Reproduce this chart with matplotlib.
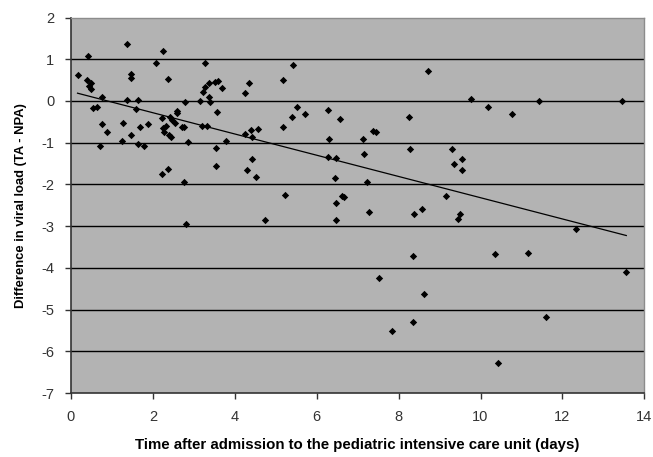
import numpy as np
import matplotlib
matplotlib.use("Agg")
import matplotlib.pyplot as plt

plt.rcParams['font.family'] = ['Liberation Sans', 'DejaVu Sans']
plt.rcParams['axes.unicode_minus'] = False

days = [0.16, 0.41, 0.38, 0.50, 0.45, 0.50, 0.76, 0.54, 0.63, 0.76, 0.89, 0.72,
        1.36, 1.46, 1.46, 1.36, 1.26, 1.46, 1.24, 1.64, 1.58, 1.68, 1.87, 1.64, 1.78,
        2.07, 2.25, 2.36, 2.23, 2.42, 2.46, 2.58, 2.60, 2.54, 2.32, 2.24, 2.28, 2.39,
        2.44, 2.72, 2.77, 2.86, 2.79, 2.22, 2.36, 2.77, 2.81,
        3.15, 3.28, 3.27, 3.23, 3.38, 3.51, 3.60, 3.68, 3.37, 3.39, 3.57, 3.19, 3.33,
        3.78, 3.53, 3.53,
        4.25, 4.35, 4.39, 4.56, 4.25, 4.43, 4.43, 4.31, 4.53, 4.74,
        5.43, 5.18, 5.52, 5.40, 5.71, 5.18, 5.23,
        6.28, 6.57, 6.30, 6.27, 6.48, 6.44, 6.61, 6.67, 6.46, 6.48,
        7.14, 7.38, 7.44, 7.15, 7.22, 7.28, 7.51, 7.84,
        8.71, 8.25, 8.27, 8.37, 8.57, 8.35, 8.62, 8.35,
        9.76, 9.31, 9.55, 9.35, 9.55, 9.15, 9.51, 9.45,
        10.18, 10.76, 10.36, 10.42, 11.42, 11.16, 11.60, 12.33, 13.45, 13.56]
diff = [0.63, 1.08, 0.50, 0.44, 0.36, 0.28, 0.09, -0.18, -0.14, -0.56, -0.75, -1.07,
        1.36, 0.64, 0.56, 0.02, -0.52, -0.82, -0.97, 0.02, -0.19, -0.62, -0.55, -1.02, -1.08,
        0.91, 1.20, 0.52, -0.42, -0.39, -0.46, -0.24, -0.28, -0.52, -0.60, -0.66, -0.74, -0.82,
        -0.86, -0.63, -0.63, -0.99, -0.02, -1.74, -1.64, -1.94, -2.94,
        -0.01, 0.91, 0.34, 0.21, 0.42, 0.46, 0.48, 0.32, 0.10, -0.02, -0.27, -0.61, -0.61,
        -0.96, -1.12, -1.56,
        0.20, 0.42, -0.70, -0.68, -0.79, -0.87, -1.39, -1.66, -1.82, -2.85,
        0.86, 0.51, -0.15, -0.38, -0.32, -0.63, -2.26,
        -0.22, -0.44, -0.92, -1.35, -1.37, -1.85, -2.29, -2.31, -2.45, -2.85,
        -0.91, -0.73, -0.75, -1.28, -1.94, -2.67, -4.24, -5.52,
        0.71, -0.39, -1.15, -2.71, -2.58, -3.71, -4.62, -5.30,
        0.05, -1.15, -1.39, -1.50, -1.66, -2.29, -2.70, -2.83,
        -0.15, -0.31, -3.68, -6.29, 0.01, -3.65, -5.17, -3.06, 0.01, -4.10]

x_ticks = [0, 2, 4, 6, 8, 10, 12, 14]
y_ticks = [2, 1, 0, -1, -2, -3, -4, -5, -6, -7]

x = np.array(days)
y = np.array(diff)

fig = plt.figure(figsize=(6.53, 4.57), dpi=100)
ax = fig.add_axes([0.1087, 0.140, 0.878, 0.8217])
ax.set_facecolor('#b3b3b3')

for yt in y_ticks[1:-1]:
    ax.axhline(yt, color='black', linewidth=1.0, zorder=1)

ax.scatter(x, y, marker='D', s=14, color='black', zorder=3, linewidths=0)

slope, intercept = np.polyfit(x, y, 1)
xl = np.array([x.min(), x.max()])
ax.plot(xl, slope * xl + intercept, color='black', linewidth=0.9, zorder=2)

ax.set_xlim(0, 14)
ax.set_ylim(-7, 2)
ax.set_xticks(x_ticks)
ax.set_yticks(y_ticks)
ax.tick_params(direction='out', length=4, width=1, color='#333333',
               labelsize=10.5, labelcolor='#333333', pad=8)

for side in ['top', 'right']:
    ax.spines[side].set_color('#8c8c8c')
    ax.spines[side].set_linewidth(1)
for side in ['left', 'bottom']:
    ax.spines[side].set_color('#333333')
    ax.spines[side].set_linewidth(1.2)

ax.set_xlabel('Time after admission to the pediatric intensive care unit (days)',
              fontsize=10.8, fontweight='bold', labelpad=10)
ax.set_ylabel('Difference in viral load (TA - NPA)', fontsize=9.4,
              fontweight='bold', labelpad=10)

fig.savefig('out.png', dpi=100)
